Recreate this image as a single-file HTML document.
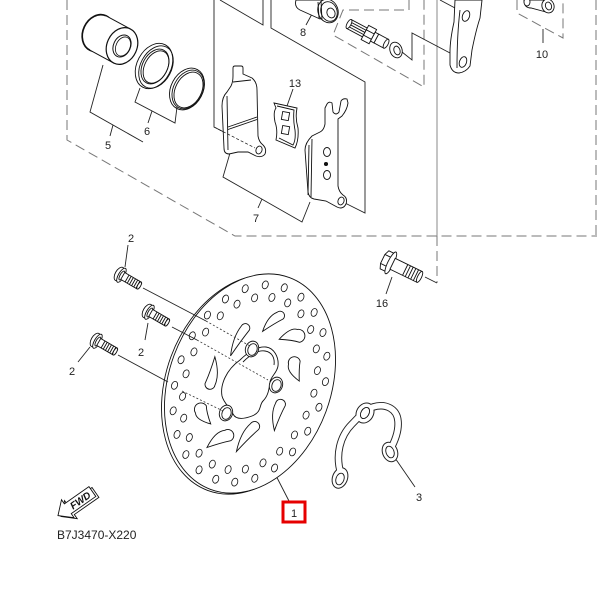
<!DOCTYPE html>
<html><head><meta charset="utf-8"><style>
html,body{margin:0;padding:0;background:#fff;}
svg{display:block;}
text{font-family:"Liberation Sans",Arial,sans-serif;fill:#222;}
.d *{vector-effect:non-scaling-stroke;}
</style></head><body>
<svg width="600" height="600" viewBox="0 0 600 600" xmlns="http://www.w3.org/2000/svg">
<rect width="600" height="600" fill="#fff"/>

<!-- dashed frames -->
<g fill="none" stroke="#777" stroke-width="1" stroke-dasharray="10,5">
 <path d="M67,0 L67,140 L235,236 L597,236"/>
 <path d="M596,0 L596,236"/>
 <path d="M409,0 L409,10 L343,10 L333,35 L424,87 L424,0"/>
 <path d="M517,0 L517,13 L563,38 L563,0"/>
 <path d="M437,236 L437,283"/>
</g>
<line x1="437" y1="0" x2="437" y2="236" stroke="#888" stroke-width="1"/>

<!-- ghost / leader lines -->
<g fill="none" stroke="#222" stroke-width="0.9">
 <path d="M214,0 L214,127 L255,148"/>
 <path d="M220,0 L263,25 L263,0"/>
 <path d="M271,0 L271,28 L365,82 L365,213 L343,202"/>
 <path d="M402,52 L412,60 L412,33 L450,53"/>
 <path d="M440,0 L455,8"/>
 <path d="M103,65 L90,112 L143,142"/>
 <path d="M113,125 L110,136"/>
 <path d="M140,88 L135,102 L175,123 L177,107"/>
 <path d="M152,111 L148,123"/>
 <path d="M230,153 L223,177 L302,222 L310,202"/>
 <path d="M262,199 L258,208"/>
 <path d="M293,89 L287,106"/>
 <path d="M312,14 L306,25"/>
 <path d="M543,29 L543,43"/>
 <path d="M392,277 L386,294"/>
 <path d="M425,277 L437,283"/>
 <path d="M395,458 L415,487"/>
 <path d="M271,466 L289,501"/>
 <path d="M128,245 L125,267"/>
 <path d="M148,323 L145,340"/>
 <path d="M90,347 L78,362"/>
</g>

<!-- piston (5) -->
<g stroke="#111">
 <ellipse cx="98" cy="33" rx="15" ry="19" transform="rotate(25 98 33)" fill="#fff" stroke-width="1.7"/>
 <polygon points="106,15.8 130,28.8 114,63.2 90,50.2" fill="#fff" stroke="none"/>
 <line x1="106" y1="15.8" x2="130" y2="28.8" stroke-width="1"/>
 <line x1="90" y1="50.2" x2="114" y2="63.2" stroke-width="1"/>
 <ellipse cx="122" cy="46" rx="15" ry="19" transform="rotate(25 122 46)" fill="#fff" stroke-width="1.2"/>
 <ellipse cx="122" cy="46" rx="8.5" ry="11.5" transform="rotate(25 122 46)" fill="#fff" stroke-width="1"/>
 <ellipse cx="123" cy="46.5" rx="7" ry="10" transform="rotate(25 123 46.5)" fill="none" stroke-width="0.8"/>
</g>

<!-- seals (6) -->
<g fill="none" stroke="#111" stroke-width="0.9">
 <ellipse cx="154" cy="66" rx="17" ry="24" transform="rotate(28 154 66)"/>
 <ellipse cx="156" cy="67" rx="15.5" ry="22.5" transform="rotate(28 156 67)"/>
 <ellipse cx="155" cy="66.5" rx="12.5" ry="18.5" transform="rotate(28 155 66.5)"/>
 <ellipse cx="156" cy="67" rx="11.3" ry="17.3" transform="rotate(28 156 67)"/>
 <ellipse cx="187" cy="89" rx="16" ry="22" transform="rotate(28 187 89)"/>
 <ellipse cx="188" cy="89.5" rx="14.5" ry="20.5" transform="rotate(28 188 89.5)"/>
 <ellipse cx="188.5" cy="90" rx="13" ry="19" transform="rotate(28 188.5 90)"/>
</g>

<!-- pad 1 -->
<g stroke="#111" stroke-width="0.9">
 <path fill="#fff" d="M233,68 Q233,66 235,66 L241,66 Q243,66 243,68 L243,74 L252,78 Q257,82 257,90 L258,136 Q259,142 263,145 Q267,149 265,154 Q262,158 256,156 L248,152 L238,152 L229,154 Q224,154 224,148 L222,106 Q222,97 227,92 L231,86 Q233,82 233,76 Z"/>
 <path fill="none" d="M227,96 L228,150 M228,127 L257,117 M228,129.5 L257,119.5 M233,82 L251,80"/>
 <ellipse cx="259" cy="150" rx="3" ry="4" fill="#fff" transform="rotate(20 259 150)"/>
 <path fill="none" d="M214,127 L255,148" stroke-dasharray="3,2" stroke-width="0.7"/>
</g>

<!-- shim 13 -->
<g stroke="#111" stroke-width="0.9" fill="#fff">
 <path d="M274,103 L297,108 Q295,118 298,128 Q299,140 295,148 L276,140 Q278,130 275,122 Q273,112 276,108 Z"/>
 <path fill="none" d="M277,106 L294,110 Q293,120 295,130 Q296,140 293,145 L279,138"/>
 <rect x="282" y="112" width="7" height="8" transform="rotate(10 285 116)"/>
 <rect x="282" y="126" width="7" height="8" transform="rotate(10 285 130)"/>
</g>

<!-- pad 2 -->
<g stroke="#111" stroke-width="0.9">
 <path fill="#fff" d="M325,108 L327,104 Q329,101 332,103 L333,112 Q336,116 339,112 L341,101 Q343,98 347,99 L348,103 Q347,110 342,116 L338,119 L338,186 Q339,192 343,195 Q348,198 346,204 Q343,210 337,207 L326,201 L314,199 Q309,198 308,192 L305,150 Q305,143 312,136 L320,132 Q324,130 325,124 Z"/>
 <path fill="none" d="M312,139 L311,197 M309,145 L308,195"/>
 <ellipse cx="327" cy="152" rx="3.5" ry="4.5" fill="#fff"/>
 <circle cx="326" cy="164" r="1.6" fill="#111"/>
 <ellipse cx="327" cy="175" rx="3.5" ry="4.5" fill="#fff"/>
 <ellipse cx="341" cy="201" rx="3" ry="4" fill="#fff" transform="rotate(20 341 201)"/>
</g>

<!-- pin 8 -->
<g stroke="#111" stroke-width="0.9" fill="#fff">
 <path d="M296,0 Q294,7 300,10 L320,19 L322,0 Z"/>
 <ellipse cx="328" cy="11" rx="10" ry="12" transform="rotate(-20 328 11)"/>
 <ellipse cx="329" cy="11.5" rx="8" ry="10" transform="rotate(-20 329 11.5)" fill="none"/>
 <ellipse cx="331" cy="13" rx="4" ry="5" transform="rotate(-20 331 13)"/>
 <path fill="none" d="M318,2 L319,18 M321,1 L322,20"/>
</g>

<!-- slide pin -->
<g transform="translate(349,24) rotate(28)" stroke="#111" stroke-width="0.9" fill="#fff">
 <rect x="0" y="-5" width="18" height="10"/>
 <ellipse cx="0" cy="0" rx="2" ry="5"/>
 <path fill="none" d="M2,-2.5 L18,-2.5 M2,0 L18,0 M2,2.5 L18,2.5"/>
 <rect x="18" y="-8" width="9" height="16"/>
 <path fill="none" d="M18,-3 L27,-3 M18,3 L27,3"/>
 <rect x="27" y="-5" width="4" height="10"/>
 <rect x="31" y="-5" width="11" height="10"/>
 <ellipse cx="42" cy="0" rx="2" ry="5"/>
</g>
<g stroke="#111" stroke-width="0.9" fill="#fff">
 <ellipse cx="396" cy="50" rx="6" ry="8" transform="rotate(-20 396 50)"/>
 <ellipse cx="397" cy="50.5" rx="3" ry="4.5" transform="rotate(-20 397 50.5)"/>
</g>

<!-- bracket -->
<g stroke="#111" stroke-width="0.9" fill="#fff">
 <path d="M455,0 L454,22 Q450,40 450,52 L450,65 Q452,73 459,73 Q466,72 470,66 L472,50 Q476,30 480,18 L482,0 Z"/>
 <path fill="none" d="M460,10 Q457,35 457,68"/>
 <ellipse cx="466" cy="16" rx="3.5" ry="5.5" transform="rotate(20 466 16)"/>
 <ellipse cx="463" cy="62" rx="3.5" ry="5.5" transform="rotate(20 463 62)"/>
</g>

<!-- part 10 bolt -->
<g stroke="#111" stroke-width="0.9" fill="#fff">
 <path d="M524,0 Q524,8 531,8 L546,12 L550,0 Z"/>
 <ellipse cx="527" cy="2" rx="3" ry="4"/>
 <ellipse cx="548" cy="6" rx="6" ry="7" transform="rotate(-20 548 6)"/>
 <ellipse cx="548.5" cy="6" rx="3" ry="4" transform="rotate(-20 548.5 6)"/>
</g>

<!-- DISC -->
<g class="d" transform="translate(250,383.5) rotate(20.4) scale(0.81,1.13)" stroke="#111" stroke-width="0.9" fill="#fff">
 <circle cx="-3" cy="1.75" r="100"/>
 <circle cx="0" cy="0" r="100"/>
 <g fill="none" stroke-width="0.8">
  <circle transform="rotate(-91)" cx="90" cy="0" r="3.6"/>
  <circle transform="rotate(-76)" cx="90" cy="0" r="3.6"/>
  <circle transform="rotate(-61)" cx="90" cy="0" r="3.6"/>
  <circle transform="rotate(-46)" cx="90" cy="0" r="3.6"/>
  <circle transform="rotate(-31)" cx="90" cy="0" r="3.6"/>
  <circle transform="rotate(-16)" cx="90" cy="0" r="3.6"/>
  <circle transform="rotate(-1)" cx="90" cy="0" r="3.6"/>
  <circle transform="rotate(14)" cx="90" cy="0" r="3.6"/>
  <circle transform="rotate(29)" cx="90" cy="0" r="3.6"/>
  <circle transform="rotate(44)" cx="90" cy="0" r="3.6"/>
  <circle transform="rotate(59)" cx="90" cy="0" r="3.6"/>
  <circle transform="rotate(74)" cx="90" cy="0" r="3.6"/>
  <circle transform="rotate(89)" cx="90" cy="0" r="3.6"/>
  <circle transform="rotate(104)" cx="90" cy="0" r="3.6"/>
  <circle transform="rotate(119)" cx="90" cy="0" r="3.6"/>
  <circle transform="rotate(134)" cx="90" cy="0" r="3.6"/>
  <circle transform="rotate(149)" cx="90" cy="0" r="3.6"/>
  <circle transform="rotate(164)" cx="90" cy="0" r="3.6"/>
  <circle transform="rotate(179)" cx="90" cy="0" r="3.6"/>
  <circle transform="rotate(194)" cx="90" cy="0" r="3.6"/>
  <circle transform="rotate(209)" cx="90" cy="0" r="3.6"/>
  <circle transform="rotate(224)" cx="90" cy="0" r="3.6"/>
  <circle transform="rotate(239)" cx="90" cy="0" r="3.6"/>
  <circle transform="rotate(254)" cx="90" cy="0" r="3.6"/>
  <circle transform="rotate(-98.5)" cx="79" cy="0" r="3.6"/>
  <circle transform="rotate(-83.5)" cx="79" cy="0" r="3.6"/>
  <circle transform="rotate(-68.5)" cx="79" cy="0" r="3.6"/>
  <circle transform="rotate(-53.5)" cx="79" cy="0" r="3.6"/>
  <circle transform="rotate(-38.5)" cx="79" cy="0" r="3.6"/>
  <circle transform="rotate(-23.5)" cx="79" cy="0" r="3.6"/>
  <circle transform="rotate(-8.5)" cx="79" cy="0" r="3.6"/>
  <circle transform="rotate(6.5)" cx="79" cy="0" r="3.6"/>
  <circle transform="rotate(21.5)" cx="79" cy="0" r="3.6"/>
  <circle transform="rotate(36.5)" cx="79" cy="0" r="3.6"/>
  <circle transform="rotate(51.5)" cx="79" cy="0" r="3.6"/>
  <circle transform="rotate(66.5)" cx="79" cy="0" r="3.6"/>
  <circle transform="rotate(81.5)" cx="79" cy="0" r="3.6"/>
  <circle transform="rotate(96.5)" cx="79" cy="0" r="3.6"/>
  <circle transform="rotate(111.5)" cx="79" cy="0" r="3.6"/>
  <circle transform="rotate(126.5)" cx="79" cy="0" r="3.6"/>
  <circle transform="rotate(141.5)" cx="79" cy="0" r="3.6"/>
  <circle transform="rotate(156.5)" cx="79" cy="0" r="3.6"/>
  <circle transform="rotate(171.5)" cx="79" cy="0" r="3.6"/>
  <circle transform="rotate(186.5)" cx="79" cy="0" r="3.6"/>
  <circle transform="rotate(201.5)" cx="79" cy="0" r="3.6"/>
  <circle transform="rotate(216.5)" cx="79" cy="0" r="3.6"/>
  <circle transform="rotate(231.5)" cx="79" cy="0" r="3.6"/>
  <circle transform="rotate(246.5)" cx="79" cy="0" r="3.6"/>
 </g>
</g>

<!-- disc slots -->
<g stroke="#111" stroke-width="0.9" fill="#fff">
 <path transform="translate(273,322) rotate(-42)" d="M-14,0 Q0,-8 9.5,-4.5 A4.5,4.5 0 0 1 9.5,4.5 Q0,2 -14,0 Z"/>
 <path transform="translate(292,337) rotate(-10)" d="M-13,0 Q0,-10 6.5,-6.5 A6.5,6.5 0 0 1 6.5,6.5 Q0,3 -13,0 Z"/>
 <path transform="translate(296,369) rotate(-105)" d="M-12.5,0 Q0,-10 6.5,-6 A6,6 0 0 1 6.5,6 Q0,3 -12.5,0 Z"/>
 <path transform="translate(278,415) rotate(-77)" d="M-16,0 Q0,-8 11,-5 A5,5 0 0 1 11,5 Q0,2 -16,0 Z"/>
 <path transform="translate(247,437) rotate(-54)" d="M-18,0 Q0,-8 13,-5 A5,5 0 0 1 13,5 Q0,2 -18,0 Z"/>
 <path transform="translate(220,440) rotate(-30)" d="M-15,0 Q0,-10 9,-6 A6,6 0 0 1 9,6 Q0,3 -15,0 Z"/>
 <path transform="translate(204,414) rotate(-124)" d="M-12,0 Q0,-10 5.5,-6.5 A6.5,6.5 0 0 1 5.5,6.5 Q0,3 -12,0 Z"/>
 <path transform="translate(212,373) rotate(100)" d="M-16.5,0 Q0,-8 11.5,-5 A5,5 0 0 1 11.5,5 Q0,2 -16.5,0 Z"/>
 <path transform="translate(239,340) rotate(-62)" d="M-18,0 Q0,-7 13.5,-4.5 A4.5,4.5 0 0 1 13.5,4.5 Q0,2 -18,0 Z"/>
 <!-- hub opening -->
 <path d="M240,360 C248,352 258,346 266,347 C274,348 279,357 278,366 C277,373 271,376 270,382 C269,390 268,396 263,401 C259,405 262,412 252,416 C244,419 236,420 233,414 C231,408 224,404 222,396 C220,385 226,370 240,360 Z"/>
 <path fill="none" d="M243,362 C250,355 258,350 265,351 C272,352 275,358 274,365"/>
 <ellipse cx="252" cy="349" rx="6.5" ry="8" transform="rotate(20 252 349)"/>
 <ellipse cx="252.5" cy="349.5" rx="4.5" ry="6" transform="rotate(20 252.5 349.5)"/>
 <ellipse cx="276" cy="385" rx="6.5" ry="8" transform="rotate(20 276 385)"/>
 <ellipse cx="276.5" cy="385.5" rx="4.5" ry="6" transform="rotate(20 276.5 385.5)"/>
 <ellipse cx="226" cy="413" rx="6.5" ry="8" transform="rotate(20 226 413)"/>
 <ellipse cx="226.5" cy="413.5" rx="4.5" ry="6" transform="rotate(20 226.5 413.5)"/>
</g>

<!-- bolt lines -->
<g fill="none" stroke="#222" stroke-width="0.9">
 <path d="M143,288 L206,321"/>
 <path d="M172,327 L197,340"/>
 <path d="M118,355 L168,382"/>
</g>
<g fill="none" stroke="#333" stroke-width="0.8" stroke-dasharray="2,2">
 <path d="M206,321 L250,346"/>
 <path d="M197,340 L268,380"/>
 <path d="M182,391 L223,411"/>
</g>

<!-- bolts 2 -->
<g stroke="#111" stroke-width="0.9" fill="#fff">
 <g transform="translate(121,275) rotate(30)">
  <ellipse cx="-2" cy="0" rx="4" ry="7.5"/>
  <ellipse cx="0.5" cy="0" rx="3" ry="8"/>
  <ellipse cx="1" cy="0" rx="1.8" ry="5" fill="none"/>
  <rect x="2" y="-4" width="19" height="8"/>
  <path fill="none" d="M7,-4 L7,4 M9.5,-4 L9.5,4 M12,-4 L12,4 M14.5,-4 L14.5,4 M17,-4 L17,4 M19.5,-4 L19.5,4"/>
  <ellipse cx="21" cy="0" rx="1.5" ry="4"/>
 </g>
 <g transform="translate(149,312) rotate(30)">
  <ellipse cx="-2" cy="0" rx="4" ry="7.5"/>
  <ellipse cx="0.5" cy="0" rx="3" ry="8"/>
  <ellipse cx="1" cy="0" rx="1.8" ry="5" fill="none"/>
  <rect x="2" y="-4" width="19" height="8"/>
  <path fill="none" d="M7,-4 L7,4 M9.5,-4 L9.5,4 M12,-4 L12,4 M14.5,-4 L14.5,4 M17,-4 L17,4 M19.5,-4 L19.5,4"/>
  <ellipse cx="21" cy="0" rx="1.5" ry="4"/>
 </g>
 <g transform="translate(97,341) rotate(30)">
  <ellipse cx="-2" cy="0" rx="4" ry="7.5"/>
  <ellipse cx="0.5" cy="0" rx="3" ry="8"/>
  <ellipse cx="1" cy="0" rx="1.8" ry="5" fill="none"/>
  <rect x="2" y="-4" width="19" height="8"/>
  <path fill="none" d="M7,-4 L7,4 M9.5,-4 L9.5,4 M12,-4 L12,4 M14.5,-4 L14.5,4 M17,-4 L17,4 M19.5,-4 L19.5,4"/>
  <ellipse cx="21" cy="0" rx="1.5" ry="4"/>
 </g>
</g>

<!-- bolt 16 -->
<g transform="translate(389,262) rotate(26)" stroke="#111" stroke-width="0.9" fill="#fff">
 <path d="M-7,-5 L-5,-10 L1,-10 L1,10 L-5,10 L-7,5 Z"/>
 <path fill="none" d="M-7,-5 L1,-5 M-7,5 L1,5"/>
 <ellipse cx="2" cy="0" rx="3" ry="12"/>
 <rect x="4" y="-6" width="30" height="12"/>
 <path fill="none" d="M18,-6 L18,6 M21,-6 L21,6 M24,-6 L24,6 M27,-6 L27,6 M30,-6 L30,6"/>
 <ellipse cx="34" cy="0" rx="2" ry="6"/>
</g>

<!-- circlip 3 -->
<g>
 <path d="M341,474 C335,455 340,436 352,424 C360,416 364,410 373,407 C386,403 397,409 398,421 C399,431 395,441 390,450" stroke="#222" stroke-width="7.5" fill="none" stroke-linecap="round"/>
 <ellipse cx="365" cy="413" rx="9" ry="11" transform="rotate(30 365 413)" fill="#222"/>
 <ellipse cx="390" cy="452" rx="8" ry="10.5" transform="rotate(-20 390 452)" fill="#222"/>
 <ellipse cx="340" cy="478" rx="8" ry="11" transform="rotate(20 340 478)" fill="#222"/>
 <path d="M341,474 C335,455 340,436 352,424 C360,416 364,410 373,407 C386,403 397,409 398,421 C399,431 395,441 390,450" stroke="#fff" stroke-width="5.6" fill="none" stroke-linecap="round"/>
 <ellipse cx="365" cy="413" rx="8" ry="10" transform="rotate(30 365 413)" fill="#fff"/>
 <ellipse cx="390" cy="452" rx="7" ry="9.5" transform="rotate(-20 390 452)" fill="#fff"/>
 <ellipse cx="340" cy="478" rx="7" ry="10" transform="rotate(20 340 478)" fill="#fff"/>
 <g fill="#fff" stroke="#111" stroke-width="0.9">
  <ellipse cx="365" cy="413" rx="4" ry="6" transform="rotate(30 365 413)"/>
  <ellipse cx="390" cy="452" rx="4" ry="6" transform="rotate(-20 390 452)"/>
  <ellipse cx="340" cy="479" rx="4" ry="6" transform="rotate(20 340 479)"/>
 </g>
</g>

<!-- FWD arrow -->
<g transform="translate(76,503) rotate(-35)" stroke="#111" stroke-width="0.9" fill="#fff">
 <path transform="translate(2,2.5)" d="M-22,0 L-10,-11 L-10,-6 L20,-6 L20,6 L-10,6 L-10,11 Z"/>
 <path d="M-22,0 L-10,-11 L-10,-6 L20,-6 L20,6 L-10,6 L-10,11 Z"/>
 <text x="5" y="3.8" font-size="10" font-weight="bold" font-style="italic" text-anchor="middle" stroke="none" style="fill:#111">FWD</text>
</g>

<!-- red box -->
<rect x="283" y="502" width="22" height="20" fill="none" stroke="#e60000" stroke-width="3"/>

<!-- labels -->
<g font-size="11" text-anchor="middle">
 <text x="131" y="242">2</text>
 <text x="141" y="356">2</text>
 <text x="72" y="375">2</text>
 <text x="382" y="307">16</text>
 <text x="419" y="501">3</text>
 <text x="294" y="517">1</text>
 <text x="108" y="149">5</text>
 <text x="147" y="135">6</text>
 <text x="256" y="222">7</text>
 <text x="303" y="36">8</text>
 <text x="542" y="58">10</text>
 <text x="295" y="87">13</text>
</g>
<text x="57" y="539" font-size="12">B7J3470-X220</text>
</svg>
</body></html>
